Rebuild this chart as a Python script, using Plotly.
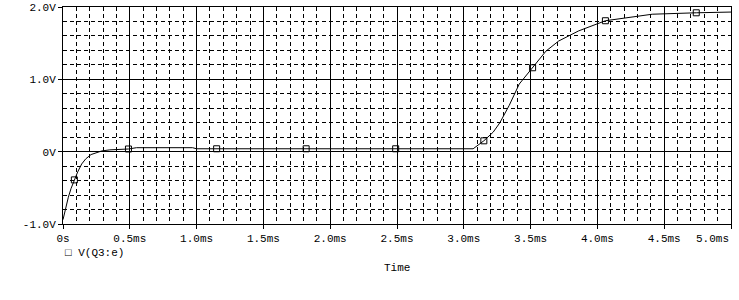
import plotly.graph_objects as go

# Waveform V(Q3:e): time in ms, voltage in V
time_ms = [0.00, 0.02, 0.04, 0.06, 0.085, 0.11, 0.14, 0.17, 0.21, 0.25, 0.29, 0.35, 0.45,
           0.49, 0.55, 0.97, 1.00, 3.07, 3.15, 3.22, 3.27, 3.34, 3.415, 3.515, 3.615,
           3.71, 3.86, 4.06, 4.41, 4.74, 5.00]
volts = [-0.94, -0.78, -0.63, -0.51, -0.39, -0.28, -0.17, -0.10, -0.04, -0.01, 0.01, 0.025, 0.03,
         0.037, 0.055, 0.055, 0.04, 0.04, 0.15, 0.27, 0.40, 0.64, 0.935, 1.16, 1.39,
         1.53, 1.67, 1.81, 1.90, 1.92, 1.93]

# Marker positions on the trace
marker_t = [0.085, 0.49, 1.15, 1.82, 2.49, 3.15, 3.515, 4.06, 4.74]
marker_v = [-0.39, 0.037, 0.04, 0.04, 0.04, 0.15, 1.16, 1.81, 1.92]

x_tickvals = [0, 0.5, 1.0, 1.5, 2.0, 2.5, 3.0, 3.5, 4.0, 4.5, 5.0]
x_ticktext = ["0s", "0.5ms", "1.0ms", "1.5ms", "2.0ms", "2.5ms", "3.0ms", "3.5ms", "4.0ms", "4.5ms", ""]
last_x_label = "5.0ms"
y_tickvals = [-1, 0, 1, 2]
y_ticktext = ["-1.0V", "0V", "1.0V", "2.0V"]

FONT = "Liberation Mono, DejaVu Sans Mono, monospace"

fig = go.Figure()
fig.add_trace(go.Scatter(x=time_ms, y=volts, mode="lines",
                         line=dict(color="black", width=1), showlegend=False,
                         hoverinfo="skip"))
fig.add_trace(go.Scatter(x=marker_t, y=marker_v, mode="markers",
                         marker=dict(symbol="square-open", size=6, color="black",
                                     line=dict(width=1, color="black")),
                         showlegend=False))

axis_common = dict(showline=True, linecolor="black", linewidth=1, mirror=True,
                   showgrid=True, gridcolor="black", gridwidth=1, zeroline=False,
                   ticks="outside", ticklen=4, tickcolor="black", tickwidth=1,
                   automargin=False,
                   tickfont=dict(family=FONT, size=11, color="black"))

fig.update_xaxes(range=[0, 5], tickvals=x_tickvals, ticktext=x_ticktext,
                 minor=dict(dtick=0.1, tick0=0, showgrid=True, gridcolor="black",
                            griddash="4px,3px", gridwidth=1, ticks=""),
                 **axis_common)
fig.update_yaxes(range=[-1, 2], tickvals=y_tickvals, ticktext=y_ticktext,
                 minor=dict(dtick=0.2, tick0=0, showgrid=True, gridcolor="black",
                            griddash="4px,3px", gridwidth=1, ticks=""),
                 **axis_common)

# last x tick label is right-aligned to the plot edge
fig.add_annotation(text=last_x_label, xref="x", yref="paper", x=5, y=0,
                   yshift=-15, xanchor="right", yanchor="middle", showarrow=False,
                   font=dict(family=FONT, size=11, color="black"))
# legend entry
fig.add_annotation(text="□ V(Q3:e)", xref="paper", yref="paper", x=0, y=0,
                   yshift=-29, xanchor="left", yanchor="middle",
                   showarrow=False, font=dict(family=FONT, size=11, color="black"))
# x axis title
fig.add_annotation(text="Time", xref="paper", yref="paper", x=0.5, y=0,
                   yshift=-44, xanchor="center", yanchor="middle",
                   showarrow=False, font=dict(family=FONT, size=11, color="black"))

fig.update_layout(width=739, height=300, margin=dict(l=63, r=8, t=7, b=76, autoexpand=False),
                  paper_bgcolor="white", plot_bgcolor="white",
                  font=dict(family=FONT, size=11, color="black"))

fig.write_html("out.html")
